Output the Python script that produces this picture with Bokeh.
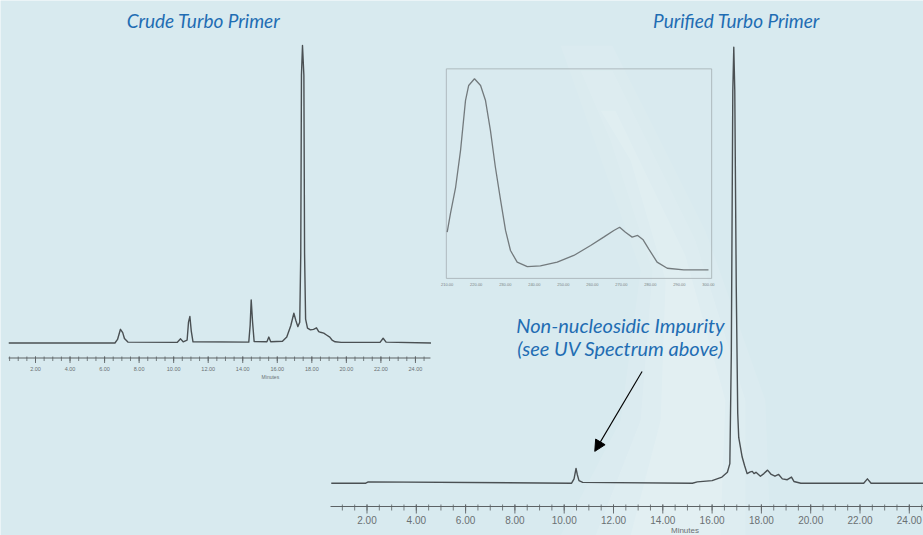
import numpy as np
from bokeh.plotting import figure
from bokeh.models import Range1d, ColumnDataSource, Label, Arrow, NormalHead
from bokeh.embed import file_html
from bokeh.resources import INLINE
from bokeh.core.properties import value

W, H = 923, 535

# ---------------- data ----------------
# Crude Turbo Primer chromatogram (minutes, relative absorbance)
crude_time = [0.45, 6.60, 6.75, 6.92, 7.05, 7.15, 7.35, 10.20, 10.40, 10.55, 10.78, 10.86,
              10.94, 11.02, 11.12, 14.35, 14.43, 14.49, 14.57, 14.66, 15.40, 15.51, 15.62,
              16.30, 16.55, 16.78, 16.96, 17.08, 17.19, 17.30, 17.36, 17.40, 17.46, 17.54,
              17.58, 17.64, 17.75, 17.92, 18.10, 18.27, 18.40, 18.50, 18.69, 18.85, 19.04,
              19.17, 19.35, 19.70, 21.95, 22.13, 22.30, 24.90]
crude_abs = [0.000, 0.000, 0.012, 0.046, 0.035, 0.015, 0.003, 0.002, 0.014, 0.004, 0.010, 0.070,
             0.089, 0.040, 0.004, 0.003, 0.060, 0.145, 0.070, 0.005, 0.004, 0.020, 0.004,
             0.006, 0.020, 0.058, 0.100, 0.075, 0.055, 0.070, 0.300, 0.900, 1.000, 0.900,
             0.300, 0.080, 0.050, 0.044, 0.046, 0.051, 0.038, 0.036, 0.033, 0.027, 0.020,
             0.010, 0.004, 0.002, 0.002, 0.016, 0.003, 0.000]

# Purified Turbo Primer chromatogram
pure_time = [0.55, 1.95, 2.05, 10.30, 10.40, 10.48, 10.53, 10.60, 10.75, 15.20, 15.40, 16.00,
             16.40, 16.62, 16.72, 16.78, 16.84, 16.88, 16.92, 16.98, 17.04, 17.08, 17.22,
             17.32, 17.42, 17.55, 17.63, 17.70, 17.78, 17.96, 18.10, 18.25, 18.40, 18.55,
             18.70, 18.85, 19.05, 19.22, 19.32, 19.60, 22.15, 22.30, 22.45, 24.60]
pure_abs = [0.000, 0.000, 0.003, 0.000, 0.010, 0.034, 0.020, 0.006, 0.002, 0.000, 0.003, 0.006,
            0.014, 0.025, 0.045, 0.300, 0.900, 1.000, 0.900, 0.450, 0.160, 0.105, 0.060,
            0.040, 0.022, 0.026, 0.027, 0.022, 0.025, 0.016, 0.022, 0.030, 0.020, 0.016,
            0.020, 0.010, 0.008, 0.014, 0.004, 0.000, 0.000, 0.010, 0.000, 0.000]

# UV spectrum of the non-nucleosidic impurity (nm, relative absorbance)
uv_nm = [210.0, 211.1, 212.9, 214.6, 216.3, 217.4, 219.4, 221.5, 223.2, 224.9, 226.6, 228.4,
         230.1, 231.8, 234.1, 237.6, 242.1, 247.9, 253.6, 259.4, 263.9, 267.4, 269.4, 271.4,
         273.7, 275.6, 277.5, 279.4, 282.3, 285.8, 291.5, 300.0]
uv_abs = [0.197, 0.293, 0.432, 0.625, 0.886, 0.965, 1.000, 0.965, 0.886, 0.729, 0.537, 0.363,
          0.206, 0.101, 0.040, 0.017, 0.021, 0.040, 0.075, 0.127, 0.171, 0.206, 0.223, 0.197,
          0.171, 0.180, 0.157, 0.110, 0.040, 0.008, 0.000, 0.000]

minute_ticks = [2, 4, 6, 8, 10, 12, 14, 16, 18, 20, 22, 24]
minute_labels = ["2.00", "4.00", "6.00", "8.00", "10.00", "12.00", "14.00", "16.00",
                 "18.00", "20.00", "22.00", "24.00"]
uv_ticks = [210, 220, 230, 240, 250, 260, 270, 280, 290, 300]
uv_labels = ["210.00", "220.00", "230.00", "240.00", "250.00", "260.00", "270.00",
             "280.00", "290.00", "300.00"]

titles = ["Crude Turbo Primer", "Purified Turbo Primer"]
note_lines = ["Non-nucleosidic Impurity", "(see UV Spectrum above)"]

# ---------------- styling / layout ----------------
BG = "#d8eaef"
BLUE = "#1f6db3"
TRACE = "#4a5053"
AXIS = "#5c6265"
TICKTXT = "#6a7073"


def span(v0, p0, v1, p1, total):
    """Range whose values v0, v1 fall on pixels p0, p1 of a frame of size total."""
    k = (v1 - v0) / (p1 - p0)
    return Range1d(v0 - p0 * k, v0 + (total - p0) * k)


p = figure(width=W, height=H, x_range=Range1d(0, W), y_range=Range1d(H, 0),
           toolbar_location=None, output_backend="svg", min_border=0,
           x_axis_location=None, y_axis_location=None,
           background_fill_color=BG, border_fill_color=BG, outline_line_color=None)
p.grid.visible = False

# sub-chart scales (pixel positions measured from top; y ranges use pixels from bottom)
p.extra_x_ranges = {
    "crude": span(2, 35.0, 24, 35.0 + 22 * 17.27, W),
    "pure": span(2, 366.5, 24, 366.5 + 22 * 24.65, W),
    "uv": span(210, 446.7, 300, 446.7 + 90 * 2.903, W),
}
p.extra_y_ranges = {
    "crude": span(0, H - 342.5, 1, H - 45.0, H),
    "pure": span(0, H - 482.7, 1, H - 46.7, H),
    "uv": span(0, H - 269.3, 1, H - 78.3, H),
}

# soft background swoosh (layered, low alpha to fake a gradient)
p.patch([560, 612, 705, 765, 770, 560, 620, 640, 590],
        [45, 45, 230, 400, 535, 535, 420, 270, 130],
        fill_color="white", fill_alpha=0.08, line_color=None)
p.patch([580, 612, 695, 745, 745, 595, 640, 652, 610],
        [70, 70, 240, 400, 535, 535, 420, 270, 140],
        fill_color="white", fill_alpha=0.10, line_color=None)
p.patch([600, 615, 685, 725, 720, 630, 660, 665, 630],
        [110, 110, 255, 400, 535, 535, 420, 280, 160],
        fill_color="white", fill_alpha=0.12, line_color=None)

# ---------------- UV inset ----------------
p.quad(left=209.7, right=301.1, bottom=-0.045, top=1.052, x_range_name="uv", y_range_name="uv",
       fill_color="#dcecf0", fill_alpha=0.3, line_color="#a3adb1", line_width=0.8)
p.line(uv_nm, uv_abs, x_range_name="uv", y_range_name="uv",
       line_color="#737a7d", line_width=1.3)
uv_src = ColumnDataSource(dict(x=uv_ticks, y=[284.3] * len(uv_ticks), t=uv_labels))
p.text(x="x", y="y", text="t", source=uv_src, x_range_name="uv",
       text_font=value("Liberation Sans"), text_font_size="4px", text_color="#7a8285",
       text_align="center", text_baseline="middle")


# ---------------- axes (drawn as tick marks from tick arrays) ----------------
def draw_axis(rng, t0, t1, y_line, minor_len, major_len, lab_y, lab_size, min_y, min_x, min_size):
    p.segment(x0=[t0], y0=[y_line], x1=[t1], y1=[y_line], x_range_name=rng,
              line_color=AXIS, line_width=1)
    minor = [m for m in np.arange(0.5, 25.0, 0.5) if t0 <= m <= t1]
    p.segment(x0=minor, y0=[y_line - minor_len * 0.5] * len(minor), x1=minor,
              y1=[y_line + minor_len] * len(minor), x_range_name=rng,
              line_color=AXIS, line_width=0.8)
    p.segment(x0=minute_ticks, y0=[y_line - minor_len * 0.5] * len(minute_ticks), x1=minute_ticks,
              y1=[y_line + major_len] * len(minute_ticks), x_range_name=rng,
              line_color=AXIS, line_width=0.9)
    src = ColumnDataSource(dict(x=minute_ticks, y=[lab_y] * len(minute_ticks), t=minute_labels))
    p.text(x="x", y="y", text="t", source=src, x_range_name=rng,
           text_font=value("Liberation Sans"), text_font_size=lab_size, text_color=TICKTXT,
           text_align="center", text_baseline="middle")
    p.text(x=[min_x], y=[min_y], text=["Minutes"], x_range_name=rng,
           text_font=value("Liberation Sans"), text_font_size=min_size, text_color=TICKTXT,
           text_align="center", text_baseline="middle")


draw_axis("crude", 0.44, 24.87, 357.5, 3, 5, 368.0, "5.5px", 376.8, 15.6, "5px")
draw_axis("pure", 0.52, 24.60, 506.0, 4, 7, 519.0, "10px", 529.5, 14.9, "8px")

# ---------------- chromatograms ----------------
p.line(crude_time, crude_abs, x_range_name="crude", y_range_name="crude",
       line_color=TRACE, line_width=1.4, line_join="round")
p.line(pure_time, pure_abs, x_range_name="pure", y_range_name="pure",
       line_color=TRACE, line_width=1.4, line_join="round")

# ---------------- texts ----------------
for txt, cx in zip(titles, [203, 736]):
    p.add_layout(Label(x=cx, y=20, text=txt, text_align="center", text_baseline="middle",
                       text_font="Lato", text_font_style="italic", text_font_size="19px",
                       text_color=BLUE))
for txt, cy in zip(note_lines, [324, 347]):
    p.add_layout(Label(x=620, y=cy, text=txt, text_align="center", text_baseline="middle",
                       text_font="Lato", text_font_style="italic", text_font_size="20px",
                       text_color=BLUE))

p.add_layout(Arrow(end=NormalHead(size=11, fill_color="black", line_color="black"),
                   x_start=13.16, y_start=0.256, x_end=11.24, y_end=0.073,
                   x_range_name="pure", y_range_name="pure",
                   line_color="black", line_width=1.1))

open("out.html", "w").write(file_html(p, INLINE))
